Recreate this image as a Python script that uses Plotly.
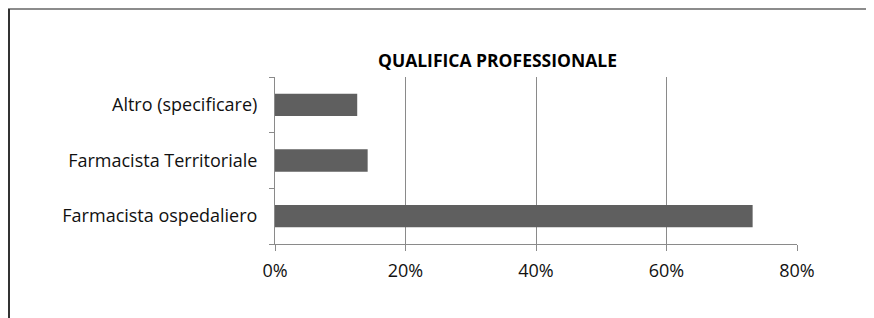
import plotly.graph_objects as go

categories = ["Farmacista ospedaliero", "Farmacista Territoriale", "Altro (specificare)"]
values = [73.2, 14.2, 12.6]
tick_vals = [0, 20, 40, 60, 80]
tick_text = ["0%", "20%", "40%", "60%", "80%"]
title_text = "QUALIFICA PROFESSIONALE"

# page body adds an 8px margin, so the figure is laid out 8px smaller/offset
OFF = 8
W, H = 874 - OFF, 318 - OFF
ML, MR, MT, MB = 275 - OFF, 77, 77 - OFF, 74
PW = W - ML - MR
PH = H - MT - MB

def px_x(p):
    return (p - OFF - ML) / PW

def px_y(p):
    return (H - MB - (p - OFF)) / PH

FONT = "Open Sans"

fig = go.Figure(go.Bar(
    x=values, y=categories, orientation="h",
    marker=dict(color="#5f5f5f", line=dict(width=0)),
    hoverinfo="skip",
))

fig.update_layout(
    width=W, height=H,
    margin=dict(l=ML, r=MR, t=MT, b=MB, pad=0),
    paper_bgcolor="white", plot_bgcolor="white",
    bargap=0.6, showlegend=False,
    font=dict(family=FONT, size=18, color="#111111"),
    xaxis=dict(
        range=[0, 80], tickvals=tick_vals, ticktext=tick_text,
        showgrid=True, gridcolor="#8a8a8a", gridwidth=1,
        showline=True, linecolor="#8a8a8a", linewidth=1,
        ticks="outside", ticklen=6, tickcolor="#8a8a8a",
        zeroline=False, tickfont=dict(size=18, family=FONT),
        ticklabelstandoff=4,
        fixedrange=True,
    ),
    yaxis=dict(
        categoryorder="array", categoryarray=categories,
        showgrid=False, showline=True, linecolor="#8a8a8a", linewidth=1,
        ticks="outside", ticklen=5, tickcolor="#8a8a8a",
        tickson="boundaries", ticklabelstandoff=13,
        tickfont=dict(size=18, family=FONT),
        fixedrange=True,
    ),
    shapes=[
        dict(type="line", xref="paper", yref="paper",
             x0=px_x(OFF), x1=px_x(874), y0=px_y(9), y1=px_y(9),
             line=dict(color="#8c8c8c", width=2)),
        dict(type="line", xref="paper", yref="paper",
             x0=px_x(9), x1=px_x(9), y0=px_y(9), y1=px_y(318),
             line=dict(color="#333333", width=2)),
    ],
    annotations=[
        dict(text="<b>" + title_text + "</b>", xref="paper", yref="paper",
             x=px_x(497), y=px_y(60), xanchor="center", yanchor="middle",
             showarrow=False, font=dict(size=17.5, family=FONT, color="#000000")),
    ],
)

fig.write_html("out.html")
